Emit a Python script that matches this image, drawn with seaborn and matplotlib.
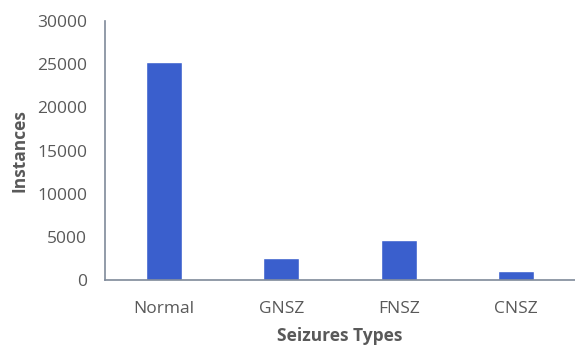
import matplotlib
matplotlib.use("Agg")
import matplotlib.pyplot as plt
import seaborn as sns
import pandas as pd

categories = ["Normal", "GNSZ", "FNSZ", "CNSZ"]
instances = [25250, 2580, 4630, 1080]
yticks = [0, 5000, 10000, 15000, 20000, 25000, 30000]

sns.set_style("white")
plt.rcParams['font.family'] = ['Open Sans', 'DejaVu Sans']

df = pd.DataFrame({"Seizures Types": categories, "Instances": instances})

fig = plt.figure(figsize=(5.75, 3.47), dpi=100)
ax = fig.add_axes([0.1826, 0.193, 0.8174, 0.7464])
sns.barplot(data=df, x="Seizures Types", y="Instances", color="#3a5fcd",
            saturation=1, width=0.31, ax=ax)
ax.set_ylim(0, 30000)
ax.set_xlim(-0.5, 3.5)
ax.set_yticks(yticks)
ax.set_yticklabels([str(t) for t in yticks])
ax.tick_params(axis='y', length=0, pad=13, labelsize=12.5, labelcolor="#595959")
ax.tick_params(axis='x', length=0, pad=15, labelsize=12.5, labelcolor="#595959")
for s in ["top", "right"]:
    ax.spines[s].set_visible(False)
for s in ["left", "bottom"]:
    ax.spines[s].set_color("#7f8a9a")
    ax.spines[s].set_linewidth(1.2)
ax.set_xlabel("Seizures Types", fontsize=12.5, fontweight="bold", color="#595959", labelpad=7.5)
ax.set_ylabel("Instances", fontsize=12.5, fontweight="bold", color="#595959", labelpad=6)
fig.savefig("out.png", dpi=100)
